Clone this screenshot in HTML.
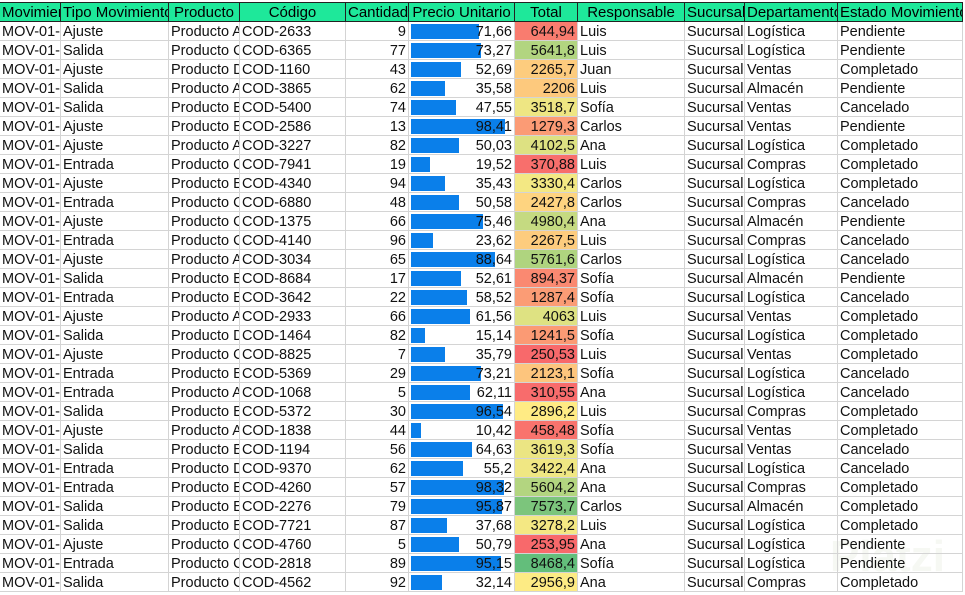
<!DOCTYPE html>
<html><head><meta charset="utf-8"><style>
body{margin:0;width:965px;height:595px;overflow:hidden;background:#fff;font-family:"Liberation Sans",sans-serif;font-size:14.5px;color:#111;position:relative}
.c{position:absolute;height:19px;line-height:21px;overflow:hidden;white-space:nowrap;box-sizing:border-box;border-right:1px solid #d4d4d4;border-bottom:1px solid #d4d4d4;padding:0 2px}
.h{background:#1ee89a;border:1px solid #222;border-left:none;height:20px;line-height:20px;text-align:center;top:2px;font-size:15px;color:#000}
.r{text-align:right}
.bar{position:absolute;left:2px;top:2px;height:15px;background:#0a7fea}
.t{position:relative}
</style></head><body>
<div id="g"></div>
<div style="position:absolute;left:830px;top:532px;font-size:44px;color:#f6f8f3;font-weight:bold;z-index:-1">Platzi</div>
<script>
const cols=[[0,61],[61,169],[169,240],[240,346],[346,409],[409,515],[515,578],[578,685],[685,745],[745,838],[838,963]];
const hdr=["Movimiento","Tipo Movimiento","Producto","Código","Cantidad","Precio Unitario","Total","Responsable","Sucursal","Departamento","Estado Movimiento"];
const d=`Ajuste,A,2633,9,71.66,644.94,Luis,Logística,Pendiente
Salida,C,6365,77,73.27,5641.8,Luis,Logística,Pendiente
Ajuste,D,1160,43,52.69,2265.7,Juan,Ventas,Completado
Salida,A,3865,62,35.58,2206,Luis,Almacén,Pendiente
Salida,B,5400,74,47.55,3518.7,Sofía,Ventas,Cancelado
Ajuste,E,2586,13,98.41,1279.3,Carlos,Ventas,Pendiente
Ajuste,A,3227,82,50.03,4102.5,Ana,Logística,Completado
Entrada,C,7941,19,19.52,370.88,Luis,Compras,Completado
Ajuste,E,4340,94,35.43,3330.4,Carlos,Logística,Completado
Entrada,C,6880,48,50.58,2427.8,Carlos,Compras,Cancelado
Ajuste,C,1375,66,75.46,4980.4,Ana,Almacén,Pendiente
Entrada,C,4140,96,23.62,2267.5,Luis,Compras,Cancelado
Ajuste,A,3034,65,88.64,5761.6,Carlos,Logística,Cancelado
Salida,B,8684,17,52.61,894.37,Sofía,Almacén,Pendiente
Entrada,B,3642,22,58.52,1287.4,Sofía,Logística,Cancelado
Ajuste,A,2933,66,61.56,4063,Luis,Ventas,Completado
Salida,D,1464,82,15.14,1241.5,Sofía,Logística,Completado
Ajuste,C,8825,7,35.79,250.53,Luis,Ventas,Completado
Entrada,E,5369,29,73.21,2123.1,Sofía,Logística,Cancelado
Entrada,A,1068,5,62.11,310.55,Ana,Logística,Cancelado
Salida,E,5372,30,96.54,2896.2,Luis,Compras,Completado
Ajuste,A,1838,44,10.42,458.48,Sofía,Ventas,Completado
Salida,E,1194,56,64.63,3619.3,Sofía,Ventas,Cancelado
Entrada,D,9370,62,55.2,3422.4,Ana,Logística,Cancelado
Entrada,E,4260,57,98.32,5604.2,Ana,Compras,Completado
Salida,E,2276,79,95.87,7573.7,Carlos,Almacén,Completado
Salida,E,7721,87,37.68,3278.2,Luis,Logística,Completado
Ajuste,C,4760,5,50.79,253.95,Ana,Logística,Pendiente
Entrada,C,2818,89,95.15,8468.4,Sofía,Logística,Pendiente
Salida,C,4562,92,32.14,2956.9,Ana,Compras,Completado`.split("\n").map(l=>l.split(","));
let h="";
hdr.forEach((t,i)=>{h+=`<div class="c h" style="left:${cols[i][0]}px;width:${cols[i][1]-cols[i][0]}px">${t}</div>`});
const mn=250.53,mx=8468.4,md=2900;
function mix(a,b,t){return a.map((v,i)=>Math.round(v+(b[i]-v)*t))}
function col(v){const R=[248,105,107],Y=[255,235,132],G=[99,190,123];let c=v<md?mix(R,Y,(v-mn)/(md-mn)):mix(Y,G,(v-md)/(mx-md));return `rgb(${c})`}
const fmt=v=>String(v).replace(".",",");
d.forEach((r,k)=>{const y=22+19*k;
const vals=["MOV-01-00"+(k+1),r[0],"Producto "+r[1],"COD-"+r[2],r[3],null,null,r[6],"Sucursal Centro",r[7],r[8]];
vals.forEach((t,i)=>{const w=cols[i][1]-cols[i][0];let st=`left:${cols[i][0]}px;top:${y}px;width:${w}px`;let cl="c";let inner=t;
if(i==4)cl+=" r";
if(i==5){cl+=" r";inner=`<div class="bar" style="width:${(0.95*r[4]).toFixed(1)}px"></div><span class="t">${fmt(r[4])}</span>`}
if(i==6){cl+=" r";st+=`;background:${col(+r[5])}`;inner=fmt(r[5])}
h+=`<div class="${cl}" style="${st}">${inner}</div>`})});
document.getElementById("g").innerHTML=h;
</script>
</body></html>
